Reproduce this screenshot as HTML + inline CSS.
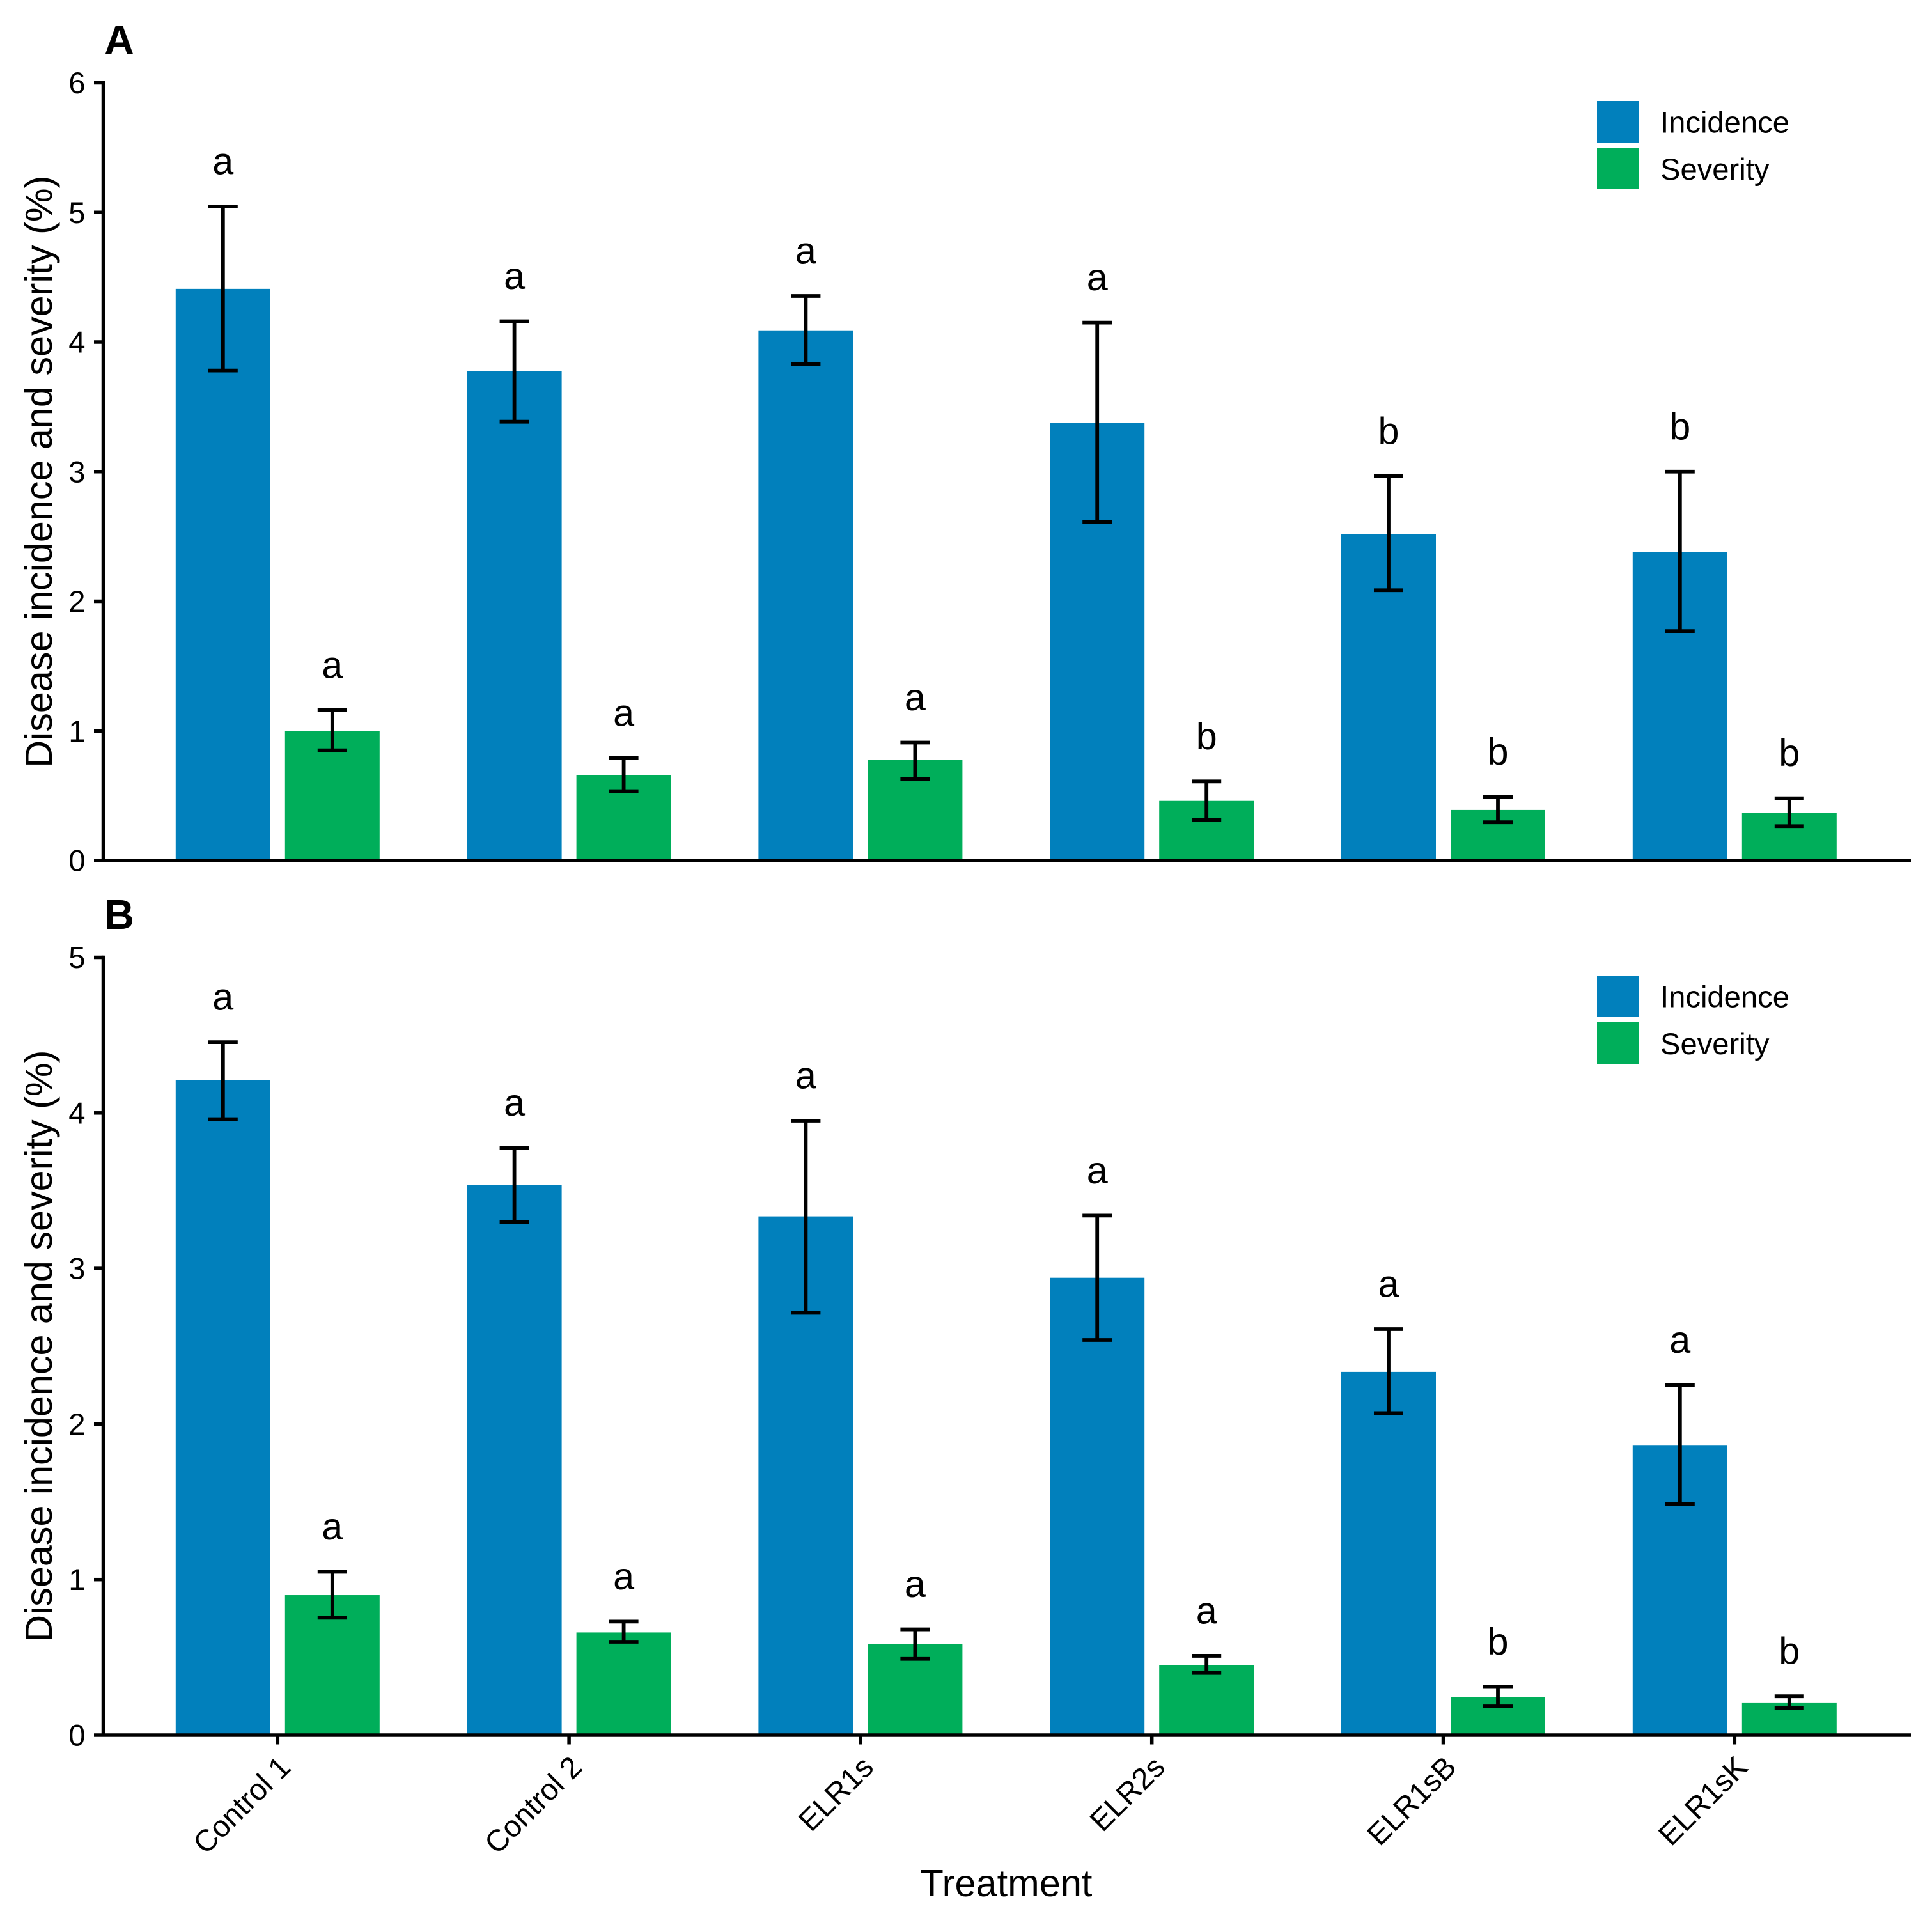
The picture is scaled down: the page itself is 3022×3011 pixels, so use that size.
<!DOCTYPE html>
<html lang="en">
<head>
<meta charset="utf-8">
<title>Disease incidence and severity by treatment</title>
<style>
html,body{margin:0;padding:0;background:#fff;}
svg{display:block;font-family:"Liberation Sans",Arial,Helvetica,sans-serif;}
</style>
</head>
<body>
<svg id="chart" xmlns="http://www.w3.org/2000/svg" width="3022" height="3011" viewBox="0 0 3022 3011">
<rect width="3022" height="3011" fill="#ffffff"></rect>
</svg>
<script>
const categories = ['Control 1', 'Control 2', 'ELR1s', 'ELR2s', 'ELR1sB', 'ELR1sK'];
const seriesNames = ['Incidence', 'Severity'];

const ticksA = [0, 1, 2, 3, 4, 5, 6];
const incidenceA = [4.41, 3.775, 4.09, 3.375, 2.52, 2.38];
const incidenceUpperA = [5.045, 4.16, 4.355, 4.15, 2.965, 3.00];
const incidenceLowerA = [3.78, 3.385, 3.83, 2.61, 2.085, 1.77];
const incidenceLettersA = ['a', 'a', 'a', 'a', 'b', 'b'];
const severityA = [1.00, 0.66, 0.775, 0.46, 0.39, 0.365];
const severityUpperA = [1.16, 0.79, 0.91, 0.61, 0.49, 0.48];
const severityLowerA = [0.85, 0.535, 0.63, 0.315, 0.295, 0.265];
const severityLettersA = ['a', 'a', 'a', 'b', 'b', 'b'];

const ticksB = [0, 1, 2, 3, 4, 5];
const incidenceB = [4.21, 3.535, 3.335, 2.94, 2.335, 1.865];
const incidenceUpperB = [4.455, 3.775, 3.95, 3.34, 2.61, 2.25];
const incidenceLowerB = [3.96, 3.30, 2.715, 2.54, 2.07, 1.485];
const incidenceLettersB = ['a', 'a', 'a', 'a', 'a', 'a'];
const severityB = [0.90, 0.66, 0.585, 0.45, 0.245, 0.21];
const severityUpperB = [1.05, 0.73, 0.68, 0.51, 0.31, 0.25];
const severityLowerB = [0.755, 0.60, 0.49, 0.40, 0.185, 0.175];
const severityLettersB = ['a', 'a', 'a', 'a', 'b', 'b'];

const NS = 'http://www.w3.org/2000/svg';
const svg = document.getElementById('chart');
const BLUE = '#0180bc';
const GREEN = '#00ae5a';
const AX_L = 161.5, AX_R = 2989, GROUP0 = 434.3, GROUP_STEP = 455.8, OFFSET = 85.5, BAR_W = 148;
const TICK_FONT = 47.2, TITLE_FONT = 59.3;

function xGroup(i) { return GROUP0 + i * GROUP_STEP; }

function make(tag, attrs, parent) {
  const el = document.createElementNS(NS, tag);
  for (const k in attrs) el.setAttribute(k, attrs[k]);
  (parent || svg).appendChild(el);
  return el;
}

function drawPanel(cfg) {
  const g = make('g', {});
  
  
  const yMax = cfg.ticks[cfg.ticks.length - 1];
  const y = v => cfg.zero - (v / yMax) * (cfg.zero - cfg.top);

  const tag = make('text', { x: 163, y: cfg.top - 44.5, 'font-size': 65, 'font-weight': 'bold', fill: '#000' }, g);
  tag.textContent = cfg.tag;
  
  

  const title = make('text', { transform: 'translate(81,' + (cfg.top + cfg.zero) / 2 + ') rotate(-90)', 'text-anchor': 'middle', 'font-size': TITLE_FONT, fill: '#000' }, g);
  title.textContent = 'Disease incidence and severity (%)';
  
  

  categories.forEach((cat, i) => {
    [
      { name: 'incidence', off: -OFFSET, color: BLUE, val: cfg.inc[i], up: cfg.incUp[i], lo: cfg.incLo[i], letter: cfg.incLet[i] },
      { name: 'severity', off: OFFSET, color: GREEN, val: cfg.sev[i], up: cfg.sevUp[i], lo: cfg.sevLo[i], letter: cfg.sevLet[i] }
    ].forEach(s => {
      const cx = xGroup(i) + s.off;
      const bar = make('rect', { x: cx - BAR_W / 2, y: y(s.val), width: BAR_W, height: cfg.zero - y(s.val), fill: s.color }, g);
      
      

      const err = make('path', {
        d: 'M' + (cx - 23) + ' ' + y(s.up) + 'H' + (cx + 23) + 'M' + cx + ' ' + y(s.up) + 'V' + y(s.lo) + 'M' + (cx - 23) + ' ' + y(s.lo) + 'H' + (cx + 23),
        stroke: '#000', 'stroke-width': 5.8, fill: 'none'
      }, g);
      
      

      const letter = make('text', { x: cx, y: y(s.up) - 50.5, 'text-anchor': 'middle', 'font-size': TITLE_FONT, fill: '#000' }, g);
      letter.textContent = s.letter;
      
      
    });
  });

  const yAxis = make('line', { x1: AX_L, x2: AX_L, y1: cfg.top - 2.75, y2: cfg.zero, stroke: '#000', 'stroke-width': 5.5 }, g);
  
  

  const xAxis = make('line', { x1: AX_L, x2: AX_R, y1: cfg.zero, y2: cfg.zero, stroke: '#000', 'stroke-width': 5.5 }, g);
  
  

  cfg.ticks.forEach(t => {
    const tick = make('line', { x1: 147, x2: AX_L, y1: y(t), y2: y(t), stroke: '#000', 'stroke-width': 5.5 }, g);
    
    

    const lab = make('text', { x: 133.5, y: y(t) + 16.5, 'text-anchor': 'end', 'font-size': TICK_FONT, fill: '#000' }, g);
    lab.textContent = String(t);
    
    
  });

  seriesNames.forEach((name, i) => {
    const swatch = make('rect', { x: 2498, y: cfg.top + 28.5 + i * 73, width: 65.5, height: 65, fill: i === 0 ? BLUE : GREEN }, g);
    
    

    const lab = make('text', { x: 2597, y: cfg.top + 78 + i * 73.4, 'font-size': TICK_FONT, fill: '#000' }, g);
    lab.textContent = name;
    
    
  });

  if (cfg.showX) {
    categories.forEach((cat, i) => {
      const tx = xGroup(i);
      const tick = make('line', { x1: tx, x2: tx, y1: cfg.zero, y2: cfg.zero + 14.5, stroke: '#000', 'stroke-width': 5.5 }, g);
      
      

      const lab = make('text', { transform: 'translate(' + (tx + 23) + ',' + (cfg.zero + 53) + ') rotate(-45)', 'text-anchor': 'end', 'font-size': TICK_FONT, fill: '#000' }, g);
      lab.textContent = cat;
      
      
    });

    const xTitle = make('text', { x: 1574, y: 2966, 'text-anchor': 'middle', 'font-size': 59.5, fill: '#000' }, g);
    xTitle.textContent = 'Treatment';
    
    
  }
}

drawPanel({ tag: 'A', top: 129.5, zero: 1346, ticks: ticksA,
  inc: incidenceA, incUp: incidenceUpperA, incLo: incidenceLowerA, incLet: incidenceLettersA,
  sev: severityA, sevUp: severityUpperA, sevLo: severityLowerA, sevLet: severityLettersA, showX: false });

drawPanel({ tag: 'B', top: 1497.5, zero: 2714, ticks: ticksB,
  inc: incidenceB, incUp: incidenceUpperB, incLo: incidenceLowerB, incLet: incidenceLettersB,
  sev: severityB, sevUp: severityUpperB, sevLo: severityLowerB, sevLet: severityLettersB, showX: true });
</script>
</body>
</html>
